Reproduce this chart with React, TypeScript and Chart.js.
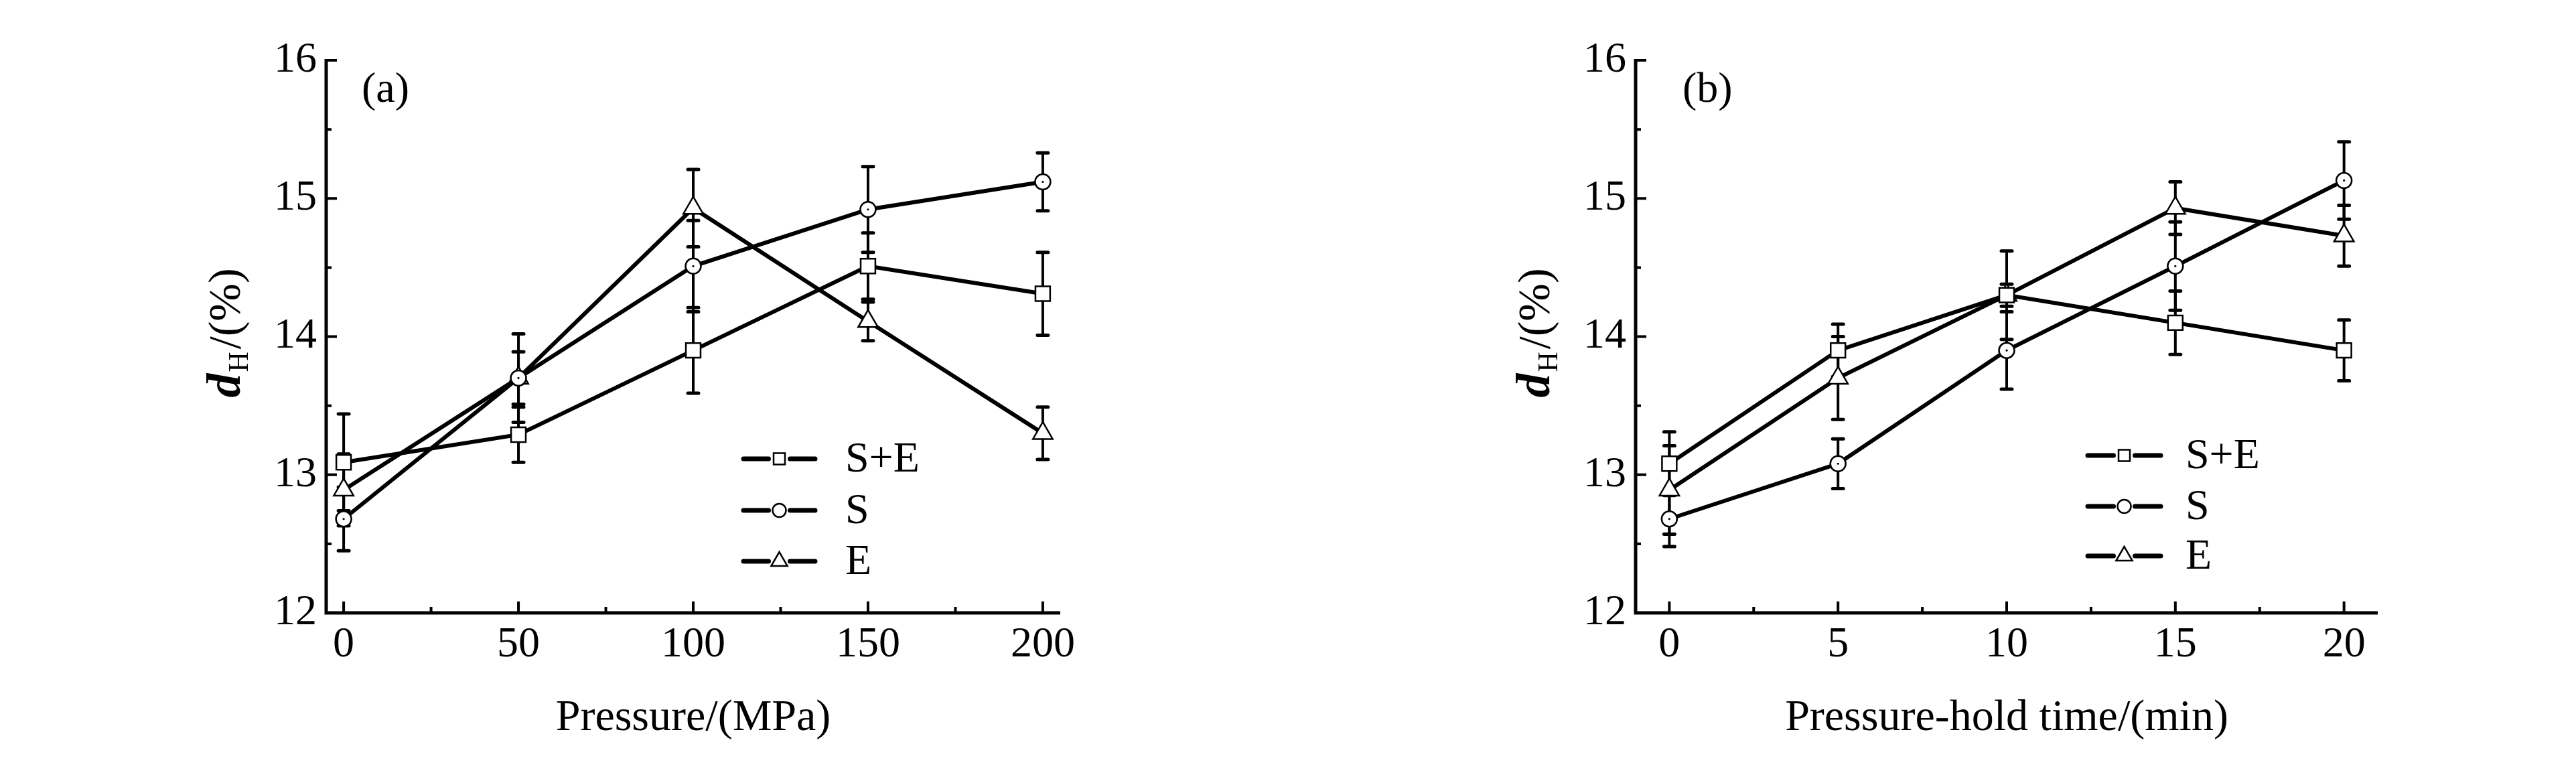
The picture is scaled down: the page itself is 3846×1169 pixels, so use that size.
import React, { useEffect, useRef } from "react";
import { Chart, registerables } from "chart.js";

Chart.register(...registerables);

const SERIF = '"Liberation Serif", "Times New Roman", Times, serif';

// ---------------- data ----------------
const seriesNames = ["S+E", "S", "E"];
const seriesStyles = ["rect", "circle", "triangle"];
const yTickValues = [12, 13, 14, 15, 16];
const yMinorValues = [12.5, 13.5, 14.5, 15.5];

// (a) pressure
const pressureValues = [0, 50, 100, 150, 200];
const pressureTickValues = [0, 50, 100, 150, 200];
const pressureMinorValues = [25, 75, 125, 175];
const pressureSE = [13.09, 13.29, 13.9, 14.51, 14.31];
const pressureSEErr = [0.35, 0.2, 0.31, 0.24, 0.3];
const pressureS = [12.68, 13.7, 14.51, 14.92, 15.12];
const pressureSErr = [0.23, 0.19, 0.33, 0.31, 0.21];
const pressureE = [12.89, 13.7, 14.93, 14.11, 13.3];
const pressureEErr = [0.26, 0.32, 0.28, 0.14, 0.19];

// (b) pressure-hold time
const holdTimeValues = [0, 5, 10, 15, 20];
const holdTimeTickValues = [0, 5, 10, 15, 20];
const holdTimeMinorValues = [2.5, 7.5, 12.5, 17.5];
const holdSE = [13.08, 13.9, 14.3, 14.1, 13.9];
const holdSEErr = [0.23, 0.19, 0.08, 0.23, 0.22];
const holdS = [12.68, 13.08, 13.9, 14.51, 15.13];
const holdSErr = [0.2, 0.18, 0.28, 0.32, 0.28];
const holdE = [12.89, 13.7, 14.3, 14.93, 14.73];
const holdEErr = [0.32, 0.3, 0.32, 0.19, 0.22];

// ---------------- panels ----------------
const CW = 1923;
const CH = 1169;

const panels = [
  {
    key: "a",
    canvasLeft: 0,
    xs: pressureValues,
    ys: [pressureSE, pressureS, pressureE],
    errs: [pressureSEErr, pressureSErr, pressureEErr],
    xMin: -5,
    xMax: 205,
    xMajor: pressureTickValues,
    xMinor: pressureMinorValues,
    xTitle: "Pressure/(MPa)",
    tag: "(a)",
    area: { left: 487, right: 1583, top: 90, bottom: 915 },
    legend: { x1: 1110, x2: 1217, tx: 1262, rows: [685, 762, 838] },
    tagPos: { x: 540, y: 152 },
    yTitlePos: { x: 358, y: 497 },
  },
  {
    key: "b",
    canvasLeft: 1923,
    xs: holdTimeValues,
    ys: [holdSE, holdS, holdE],
    errs: [holdSEErr, holdSErr, holdEErr],
    xMin: -1,
    xMax: 21,
    xMajor: holdTimeTickValues,
    xMinor: holdTimeMinorValues,
    xTitle: "Pressure-hold time/(min)",
    tag: "(b)",
    area: { left: 519, right: 1627, top: 90, bottom: 915 },
    legend: { x1: 1194, x2: 1303, tx: 1340, rows: [680, 756, 830] },
    tagPos: { x: 589, y: 152 },
    yTitlePos: { x: 390, y: 497 },
  },
];

const plotRadius: Record<string, number> = { rect: 15.5, circle: 11.5, triangle: 17 };
const legendRadius: Record<string, number> = { rect: 12, circle: 10, triangle: 14 };

function drawMarker(ctx: CanvasRenderingContext2D, style: string, cx: number, cy: number, r: number) {
  ctx.beginPath();
  if (style === "rect") {
    const s = r * Math.SQRT1_2;
    ctx.rect(cx - s, cy - s, 2 * s, 2 * s);
  } else if (style === "circle") {
    ctx.arc(cx, cy, r, 0, Math.PI * 2);
  } else {
    let rad = 0;
    ctx.moveTo(cx + Math.sin(rad) * r, cy - Math.cos(rad) * r);
    rad += (2 * Math.PI) / 3;
    ctx.lineTo(cx + Math.sin(rad) * r, cy - Math.cos(rad) * r);
    rad += (2 * Math.PI) / 3;
    ctx.lineTo(cx + Math.sin(rad) * r, cy - Math.cos(rad) * r);
    ctx.closePath();
  }
  ctx.fillStyle = "#fff";
  ctx.fill();
  ctx.stroke();
}

function PanelChart({ cfg }: { cfg: any }) {
  const ref = useRef<HTMLCanvasElement | null>(null);

  useEffect(() => {
    const canvas = ref.current;
    if (!canvas) return;
    const A = cfg.area;

    const datasets = seriesNames.map((name, si) => ({
      label: name,
      data: cfg.xs.map((x: number, i: number) => ({ x, y: cfg.ys[si][i] })),
      errs: cfg.errs[si],
      borderColor: "#000",
      backgroundColor: "#000",
      borderWidth: 6,
      pointStyle: seriesStyles[si],
      pointRadius: plotRadius[seriesStyles[si]],
      pointBorderWidth: 2.5,
      pointBackgroundColor: "#fff",
      pointBorderColor: "#000",
      fill: false,
      tension: 0,
    }));

    const errorBars = {
      id: "errorBars" + cfg.key,
      beforeDatasetsDraw(chart: any) {
        const { ctx } = chart;
        const xs = chart.scales.x;
        const ysc = chart.scales.y;
        ctx.save();
        ctx.strokeStyle = "#000";
        ctx.lineCap = "round";
        chart.data.datasets.forEach((ds: any) => {
          ds.data.forEach((p: any, i: number) => {
            const e = ds.errs[i];
            const px = xs.getPixelForValue(p.x);
            const t = ysc.getPixelForValue(p.y + e);
            const b = ysc.getPixelForValue(p.y - e);
            ctx.lineWidth = 4;
            ctx.beginPath();
            ctx.moveTo(px, t);
            ctx.lineTo(px, b);
            ctx.stroke();
            ctx.lineWidth = 5;
            ctx.beginPath();
            ctx.moveTo(px - 8, t);
            ctx.lineTo(px + 8, t);
            ctx.moveTo(px - 8, b);
            ctx.lineTo(px + 8, b);
            ctx.stroke();
          });
        });
        ctx.restore();
      },
    };

    const decorations = {
      id: "decor" + cfg.key,
      afterDatasetsDraw(chart: any) {
        const { ctx, chartArea } = chart;
        const xs = chart.scales.x;
        const ysc = chart.scales.y;
        const { left, right, top, bottom } = chartArea;
        ctx.save();
        ctx.strokeStyle = "#000";
        ctx.fillStyle = "#000";

        // centre dots of circles
        const circ = chart.data.datasets[1];
        circ.data.forEach((p: any) => {
          ctx.beginPath();
          ctx.arc(xs.getPixelForValue(p.x), ysc.getPixelForValue(p.y), 1.6, 0, Math.PI * 2);
          ctx.fill();
        });

        // axes
        ctx.lineWidth = 5;
        ctx.lineCap = "butt";
        ctx.beginPath();
        ctx.moveTo(left, top - 2);
        ctx.lineTo(left, bottom);
        ctx.lineTo(right, bottom);
        ctx.stroke();

        // ticks (inward)
        ctx.lineWidth = 4;
        ctx.beginPath();
        cfg.xMajor.forEach((v: number) => {
          const px = xs.getPixelForValue(v);
          ctx.moveTo(px, bottom);
          ctx.lineTo(px, bottom - 17);
        });
        cfg.xMinor.forEach((v: number) => {
          const px = xs.getPixelForValue(v);
          ctx.moveTo(px, bottom);
          ctx.lineTo(px, bottom - 9);
        });
        yTickValues.forEach((v) => {
          const py = ysc.getPixelForValue(v);
          ctx.moveTo(left, py);
          ctx.lineTo(left + 16, py);
        });
        yMinorValues.forEach((v) => {
          const py = ysc.getPixelForValue(v);
          ctx.moveTo(left, py);
          ctx.lineTo(left + 8, py);
        });
        ctx.stroke();

        // legend
        const L = cfg.legend;
        const mid = (L.x1 + L.x2) / 2;
        seriesNames.forEach((name, si) => {
          const yy = L.rows[si];
          ctx.lineWidth = 7;
          ctx.lineCap = "round";
          ctx.beginPath();
          ctx.moveTo(L.x1, yy);
          ctx.lineTo(mid - 16, yy);
          ctx.moveTo(mid + 16, yy);
          ctx.lineTo(L.x2, yy);
          ctx.stroke();
          ctx.lineWidth = 2.5;
          drawMarker(ctx, seriesStyles[si], mid, yy, legendRadius[seriesStyles[si]]);
          ctx.fillStyle = "#000";
          ctx.font = `64px ${SERIF}`;
          ctx.textAlign = "left";
          ctx.textBaseline = "middle";
          ctx.fillText(name, L.tx, yy + 2);
        });

        // panel tag
        ctx.font = `64px ${SERIF}`;
        ctx.textAlign = "left";
        ctx.textBaseline = "alphabetic";
        ctx.fillText(cfg.tag, cfg.tagPos.x, cfg.tagPos.y);

        // y title: d_H/(%)
        ctx.save();
        ctx.translate(cfg.yTitlePos.x, cfg.yTitlePos.y);
        ctx.rotate(-Math.PI / 2);
        const fD = `italic bold 72px ${SERIF}`;
        const fH = `42px ${SERIF}`;
        const fR = `68px ${SERIF}`;
        ctx.font = fD;
        const wD = ctx.measureText("d").width;
        ctx.font = fH;
        const wH = ctx.measureText("H").width;
        ctx.font = fR;
        const wR = ctx.measureText("/(%)").width;
        let x0 = -(wD + wH + 6 + wR) / 2;
        ctx.textAlign = "left";
        ctx.textBaseline = "alphabetic";
        ctx.font = fD;
        ctx.fillText("d", x0, 0);
        x0 += wD + 2;
        ctx.font = fH;
        ctx.fillText("H", x0, 12);
        x0 += wH + 4;
        ctx.font = fR;
        ctx.fillText("/(%)", x0, 0);
        ctx.restore();

        ctx.restore();
      },
    };

    const chart = new Chart(canvas, {
      type: "line",
      data: { datasets: datasets as any },
      options: {
        responsive: false,
        animation: false,
        devicePixelRatio: 1,
        events: [],
        layout: {
          padding: { left: A.left - 200, right: CW - A.right, top: A.top, bottom: 0 },
        },
        plugins: {
          legend: { display: false },
          tooltip: { enabled: false },
          title: { display: false },
        },
        scales: {
          x: {
            type: "linear",
            min: cfg.xMin,
            max: cfg.xMax,
            grid: { display: false, drawTicks: false },
            border: { display: false },
            afterBuildTicks: (s: any) => {
              s.ticks = cfg.xMajor.map((v: number) => ({ value: v }));
            },
            afterFit: (s: any) => {
              s.height = CH - A.bottom;
            },
            ticks: {
              color: "#000",
              font: { family: SERIF, size: 64 },
              padding: 10,
              maxRotation: 0,
              autoSkip: false,
              callback: (v: any) => String(v),
            },
            title: {
              display: true,
              text: cfg.xTitle,
              color: "#000",
              font: { family: SERIF, size: 66 },
              padding: { top: 0, bottom: 57 },
            },
          },
          y: {
            type: "linear",
            min: 12,
            max: 16,
            grid: { display: false, drawTicks: false },
            border: { display: false },
            afterBuildTicks: (s: any) => {
              s.ticks = yTickValues.map((v) => ({ value: v }));
            },
            afterFit: (s: any) => {
              s.width = 200;
            },
            ticks: {
              color: "#000",
              font: { family: SERIF, size: 64 },
              padding: 14,
              autoSkip: false,
              callback: (v: any) => String(v),
            },
          },
        },
      } as any,
      plugins: [errorBars, decorations],
    });

    return () => {
      chart.destroy();
    };
  }, [cfg]);

  return (
    <canvas
      ref={ref}
      width={CW}
      height={CH}
      style={{ position: "absolute", left: cfg.canvasLeft, top: 0, width: CW, height: CH }}
    />
  );
}

export default function App() {
  return (
    <div
      style={{
        position: "fixed",
        left: 0,
        top: 0,
        width: 3846,
        height: 1169,
        background: "#fff",
        overflow: "hidden",
      }}
    >
      {panels.map((p) => (
        <PanelChart key={p.key} cfg={p} />
      ))}
    </div>
  );
}
